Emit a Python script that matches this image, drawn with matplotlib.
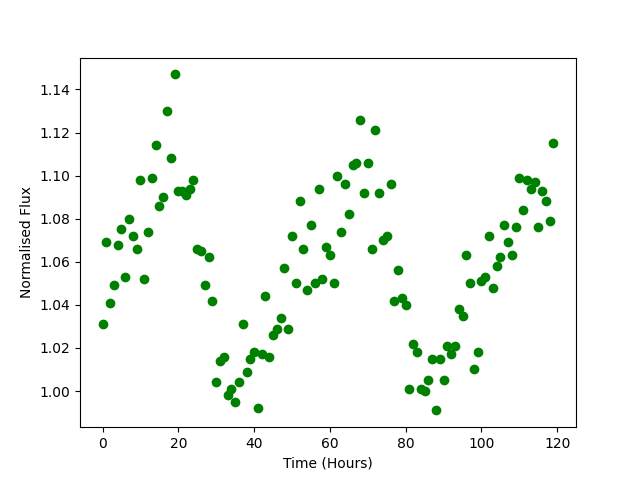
import numpy as np
import matplotlib
matplotlib.use("Agg")
import matplotlib.pyplot as plt

# Waktu pengamatan (jam)
time_hours = np.arange(120)

# Fluks ternormalisasi
flux = [
    1.031, 1.069, 1.041, 1.049, 1.068, 1.075, 1.053, 1.080, 1.072, 1.066,
    1.098, 1.052, 1.074, 1.099, 1.114, 1.086, 1.090, 1.130, 1.108, 1.147,
    1.093, 1.093, 1.091, 1.094, 1.098, 1.066, 1.065, 1.049, 1.062, 1.042,
    1.004, 1.014, 1.016, 0.998, 1.001, 0.995, 1.004, 1.031, 1.009, 1.015,
    1.018, 0.992, 1.017, 1.044, 1.016, 1.026, 1.029, 1.034, 1.057, 1.029,
    1.072, 1.050, 1.088, 1.066, 1.047, 1.077, 1.050, 1.094, 1.052, 1.067,
    1.063, 1.050, 1.100, 1.074, 1.096, 1.082, 1.105, 1.106, 1.126, 1.092,
    1.106, 1.066, 1.121, 1.092, 1.070, 1.072, 1.096, 1.042, 1.056, 1.043,
    1.040, 1.001, 1.022, 1.018, 1.001, 1.000, 1.005, 1.015, 0.991, 1.015,
    1.005, 1.021, 1.017, 1.021, 1.038, 1.035, 1.063, 1.050, 1.010, 1.018,
    1.051, 1.053, 1.072, 1.048, 1.058, 1.062, 1.077, 1.069, 1.063, 1.076,
    1.099, 1.084, 1.098, 1.094, 1.097, 1.076, 1.093, 1.088, 1.079, 1.115,
]

plt.figure(figsize=(6.4, 4.8), dpi=100)
plt.plot(time_hours, flux, "o", color="green")
plt.xlabel("Time (Hours)")
plt.ylabel("Normalised Flux")
plt.savefig("out.png", dpi=100)
plt.close()
